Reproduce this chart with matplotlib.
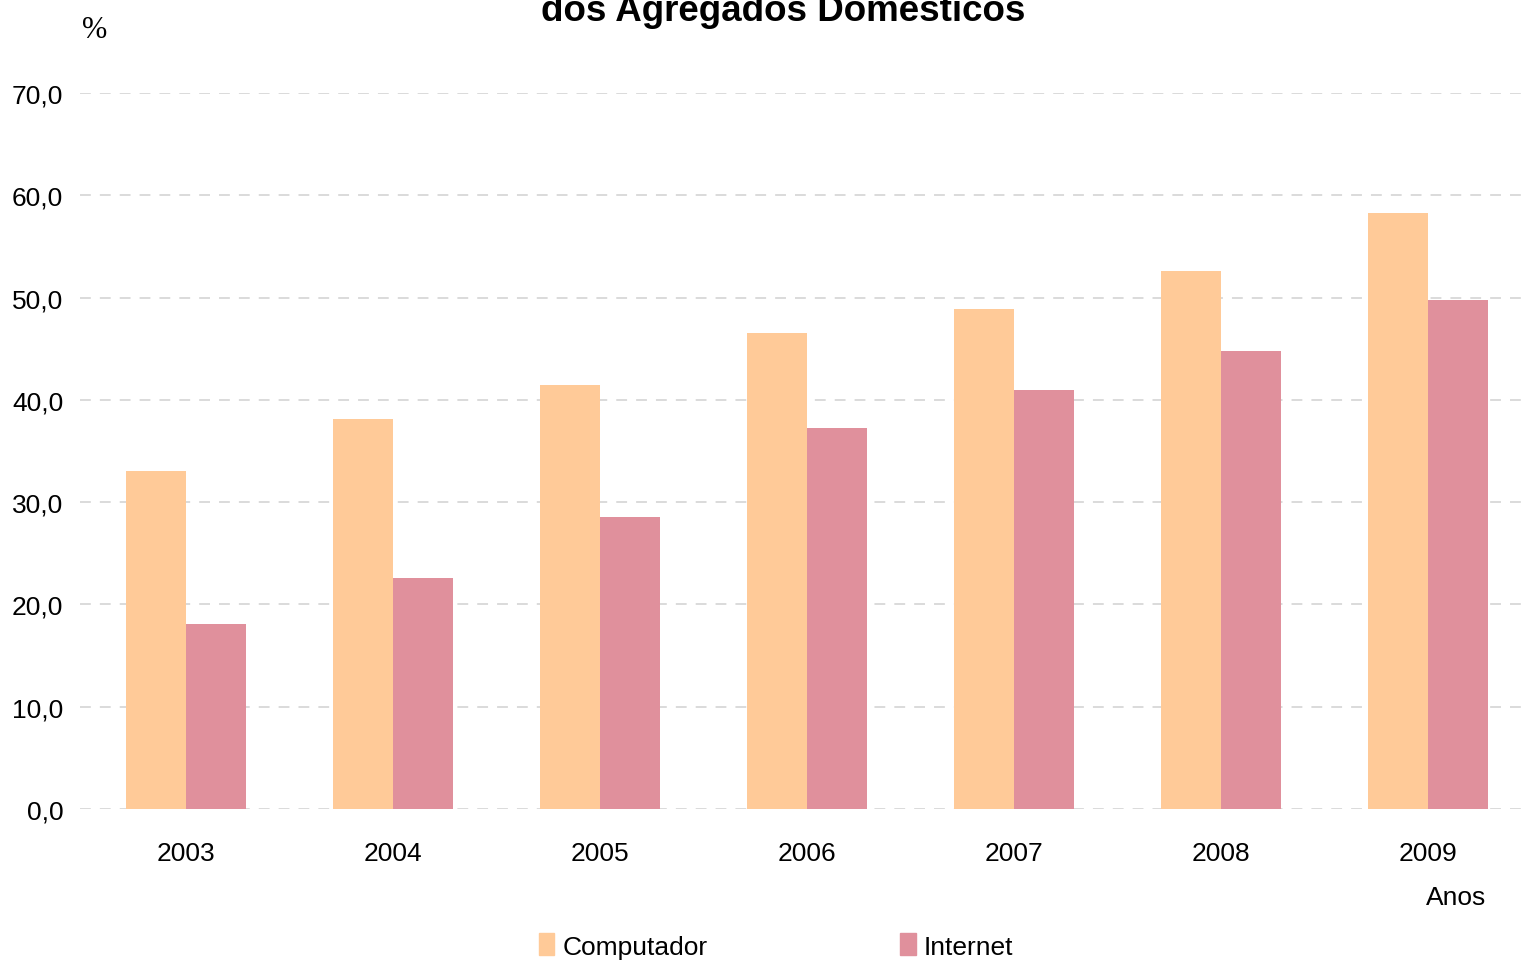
import matplotlib as mpl
mpl.use('Agg')
import matplotlib.pyplot as plt
import numpy as np
from matplotlib.patches import Patch

years = ['2003', '2004', '2005', '2006', '2007', '2008', '2009']
computador = [33.0, 38.1, 41.5, 46.5, 48.9, 52.6, 58.3]
internet = [18.1, 22.6, 28.5, 37.2, 41.0, 44.8, 49.8]
series_names = ['Computador', 'Internet']
yticks = [0, 10, 20, 30, 40, 50, 60, 70]

col_comp = '#FFCA98'
col_int = '#E0909C'
sans = 'Liberation Sans'

fig = plt.figure(figsize=(15.22, 9.62), dpi=100)
ax = fig.add_axes([80 / 1522, 1 - 810 / 962, 1442 / 1522, 716 / 962])

x = np.arange(len(years))
w = 0.29
ax.bar(x - w / 2, computador, w, color=col_comp, zorder=2)
ax.bar(x + w / 2, internet, w, color=col_int, zorder=2)

ax.set_xlim(-0.512, 6.454)
ax.set_ylim(0, 70)
ax.set_yticks(yticks)
ax.set_yticklabels([f'{v:.1f}'.replace('.', ',') for v in yticks],
                   family=sans, fontsize=19)
ax.set_xticks(x)
ax.set_xticklabels(years, family=sans, fontsize=19)
ax.tick_params(length=0)
ax.tick_params(axis='y', pad=12)
ax.tick_params(axis='x', pad=23)
for s in ax.spines.values():
    s.set_visible(False)
ax.grid(axis='y', color='#d8d8d8', linestyle=(0, (6, 5)), linewidth=1.3, zorder=0)

# title's first line lies above the picture in the source, only its end shows
fig.text(783 / 1522, 1 - 21 / 962, 'dos Agregados Domésticos', ha='center',
         va='baseline', fontsize=26.5, fontweight='bold', family=sans)
fig.text(95 / 1522, 1 - 31 / 962, '%', ha='center', va='center',
         fontsize=22, family='Liberation Serif')
fig.text(1456 / 1522, 1 - 898 / 962, 'Anos', ha='center', va='center',
         fontsize=19, family=sans)

handles = [Patch(color=col_comp), Patch(color=col_int)]
fig.legend(handles, series_names, loc='center', ncol=2,
           bbox_to_anchor=(776 / 1522, 1 - 947 / 962), frameon=False,
           prop={'family': sans, 'size': 19}, handlelength=0.6,
           handleheight=0.9, handletextpad=0.3, columnspacing=7.3,
           borderpad=0)

fig.savefig('out.png', dpi=100)
